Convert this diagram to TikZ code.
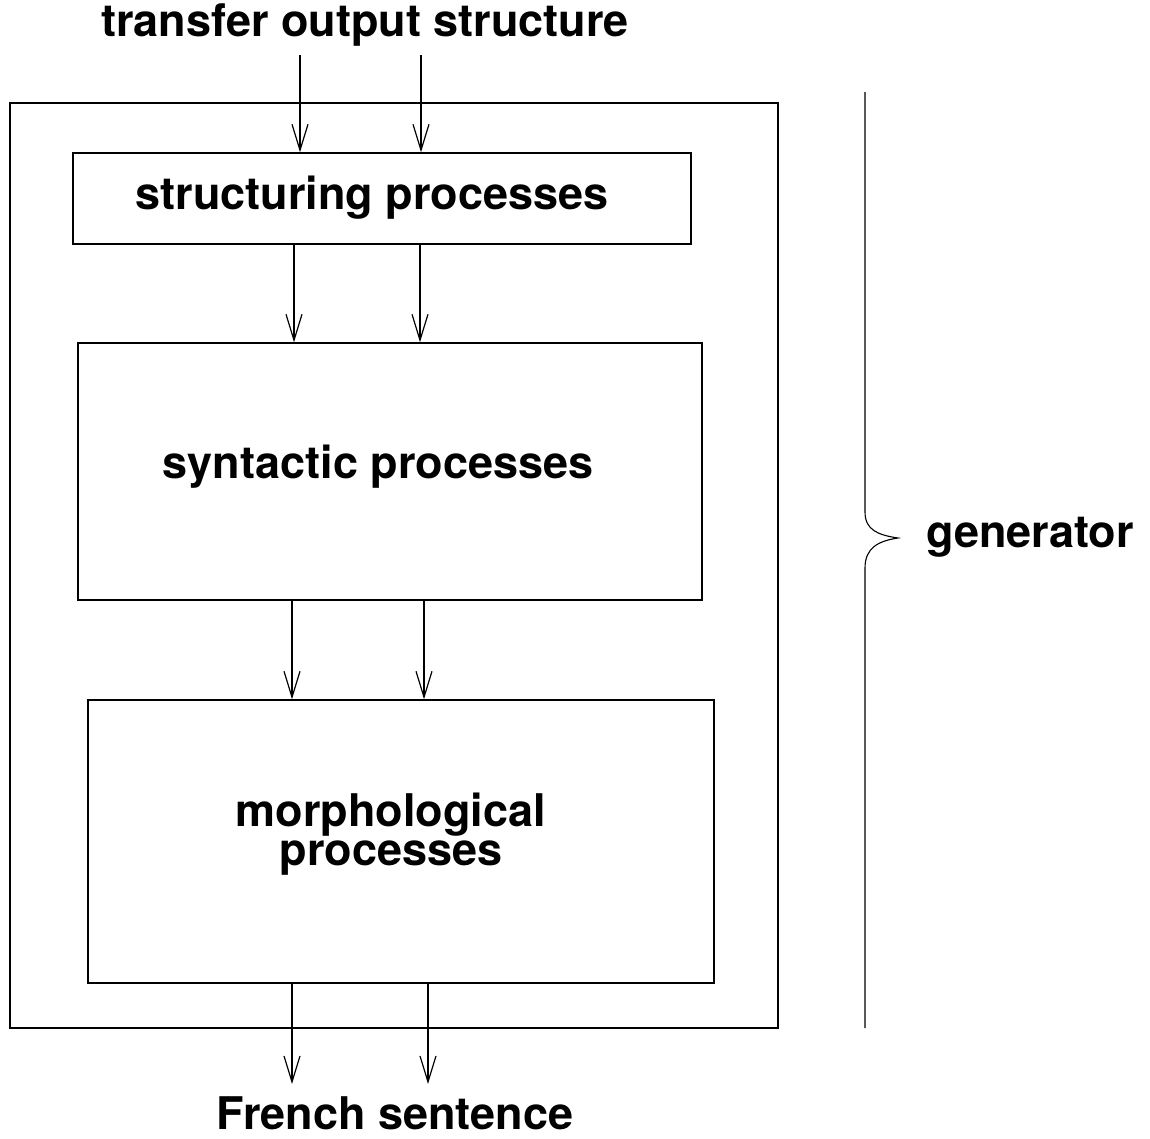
\documentclass[tikz,border=0pt]{standalone}
\usepackage{fontspec}
\setmainfont{TeX Gyre Heros}
\usetikzlibrary{arrows.meta}

\begin{document}
\begin{tikzpicture}[
    x=1pt, y=-1pt,
    box/.style={draw, line width=1.4pt, rectangle, inner sep=0pt},
    lbl/.style={font=\fontsize{45}{39}\selectfont\bfseries, inner sep=0pt, align=center},
    >={Straight Barb[length=26pt, width=16pt, line width=1.2pt]},
    flow/.style={->, line width=1.2pt}
]
    \useasboundingbox (0,0) rectangle (1150,1138);

    % labels outside the generator
    \node[lbl] (input) at (365,25) {transfer output structure};
    \node[lbl] (output) at (395,1113) {French sentence};
    \node[lbl] (genlbl) at (1030,537) {generator};

    % outer frame and the three stages
    \node[box, minimum width=768pt, minimum height=925pt] (frame) at (394,565.5) {};
    \node[box, minimum width=618pt, minimum height=91pt] (struct) at (382,198.5) {};
    \node[box, minimum width=624pt, minimum height=257pt] (synt) at (390,471.5) {};
    \node[box, minimum width=626pt, minimum height=283pt] (morph) at (401,841.5) {};

    % stage names, set a little left of the box centres
    \node[lbl] (structtxt) at ([shift={(-10,-1)}]struct.center) {structuring processes};
    \node[lbl] (synttxt) at ([shift={(-12,-5)}]synt.center) {syntactic processes};
    \node[lbl] (morphtxt) at ([shift={(-10,-7)}]morph.center) {morphological\\processes};

    % free ends of the outer arrows
    \coordinate (in1) at (300,55);
    \coordinate (in2) at (421,55);
    \coordinate (out1) at (292,1084);
    \coordinate (out2) at (428,1084);

    % arrows into and between the stages
    \draw[flow] (in1) -- (in1 |- struct.north);
    \draw[flow] (in2) -- (in2 |- struct.north);
    \foreach \dx in {-88,38}
        \draw[flow] ([xshift=\dx pt]struct.south) -- ([xshift=\dx pt]struct.south |- synt.north);
    \foreach \dx in {-98,34}
        \draw[flow] ([xshift=\dx pt]synt.south) -- ([xshift=\dx pt]synt.south |- morph.north);
    \draw[flow] (out1 |- morph.south) -- (out1);
    \draw[flow] (out2 |- morph.south) -- (out2);

    % brace for the generator
    \draw[line width=1.1pt] (865,92) -- (865,512)
        .. controls (865,530) and (878,535) .. (898,538)
        .. controls (878,541) and (865,548) .. (865,568) -- (865,1028);
\end{tikzpicture}
\end{document}
